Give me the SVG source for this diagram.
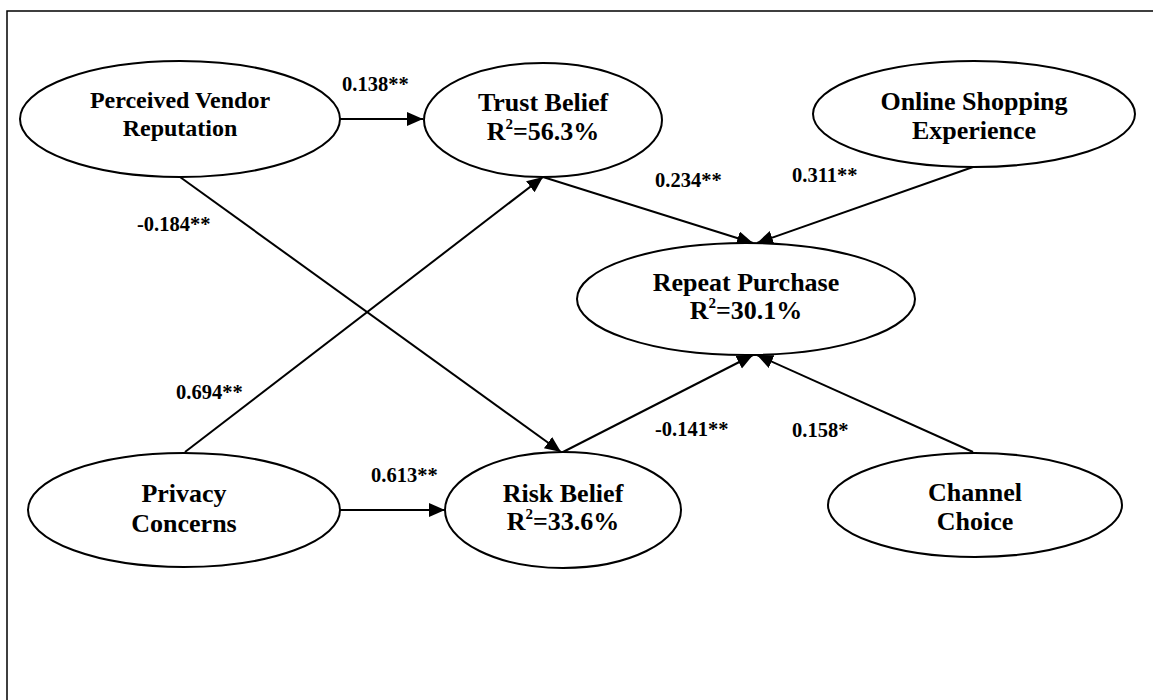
<svg xmlns="http://www.w3.org/2000/svg" width="1153" height="700" viewBox="0 0 1153 700">
<style>
.node ellipse{fill:#fff;stroke:#000;stroke-width:2}
.t{font-family:"Liberation Serif","Times New Roman",serif;font-weight:bold;fill:#000;text-anchor:middle;font-size:26px}
.lbl{font-family:"Liberation Serif","Times New Roman",serif;font-weight:bold;fill:#000;font-size:20.5px}
.edge line{stroke:#000;stroke-width:2;marker-end:url(#ah)}
</style>
<defs>
<marker id="ah" markerUnits="userSpaceOnUse" markerWidth="18" markerHeight="16" refX="16" refY="7" orient="auto">
<path d="M0,0 L16,7 L0,14 z" fill="#000"/>
</marker>
</defs>
<rect width="1153" height="700" fill="#fff"/>
<path d="M7,700 L7,11 L1153,11" fill="none" stroke="#000" stroke-width="1.5"/>
<g id="connectors" class="edge">
<line x1="340" y1="119" x2="423" y2="119"/>
<line x1="180" y1="177" x2="561" y2="452"/>
<line x1="185" y1="452" x2="543" y2="177"/>
<line x1="340" y1="510" x2="445" y2="510"/>
<line x1="543" y1="177" x2="753" y2="243"/>
<line x1="973" y1="167" x2="757" y2="243"/>
<line x1="563" y1="452" x2="753" y2="355"/>
<line x1="973" y1="452" x2="757" y2="355"/>
</g>
<g id="labels">
<text class="lbl" x="342" y="91">0.138**</text>
<text class="lbl" x="137" y="231">-0.184**</text>
<text class="lbl" x="655" y="187">0.234**</text>
<text class="lbl" x="792" y="182">0.311**</text>
<text class="lbl" x="176" y="399">0.694**</text>
<text class="lbl" x="371" y="482">0.613**</text>
<text class="lbl" x="655" y="436">-0.141**</text>
<text class="lbl" x="792" y="437">0.158*</text>
</g>
<g id="pvr" class="node">
<ellipse cx="180" cy="119" rx="160" ry="58"/>
<text class="t" x="180" y="108" style="font-size:24px">Perceived Vendor</text>
<text class="t" x="180" y="136" style="font-size:24px">Reputation</text>
</g>
<g id="trust" class="node">
<ellipse cx="543" cy="120" rx="119" ry="57"/>
<text class="t" x="543" y="111">Trust Belief</text>
<text class="t" x="543" y="140">R<tspan dy="-11" font-size="15">2</tspan><tspan dy="11">=56.3%</tspan></text>
</g>
<g id="ose" class="node">
<ellipse cx="974" cy="114" rx="161" ry="53"/>
<text class="t" x="974" y="110">Online Shopping</text>
<text class="t" x="974" y="139">Experience</text>
</g>
<g id="repeat" class="node">
<ellipse cx="746" cy="299" rx="169" ry="56"/>
<text class="t" x="746" y="291">Repeat Purchase</text>
<text class="t" x="746" y="319">R<tspan dy="-11" font-size="15">2</tspan><tspan dy="11">=30.1%</tspan></text>
</g>
<g id="privacy" class="node">
<ellipse cx="184" cy="510" rx="156" ry="57"/>
<text class="t" x="184" y="502">Privacy</text>
<text class="t" x="184" y="532">Concerns</text>
</g>
<g id="risk" class="node">
<ellipse cx="563" cy="510" rx="118" ry="58"/>
<text class="t" x="563" y="502">Risk Belief</text>
<text class="t" x="563" y="530">R<tspan dy="-11" font-size="15">2</tspan><tspan dy="11">=33.6%</tspan></text>
</g>
<g id="channel" class="node">
<ellipse cx="975" cy="505" rx="147" ry="52"/>
<text class="t" x="975" y="501">Channel</text>
<text class="t" x="975" y="530">Choice</text>
</g>
</svg>
